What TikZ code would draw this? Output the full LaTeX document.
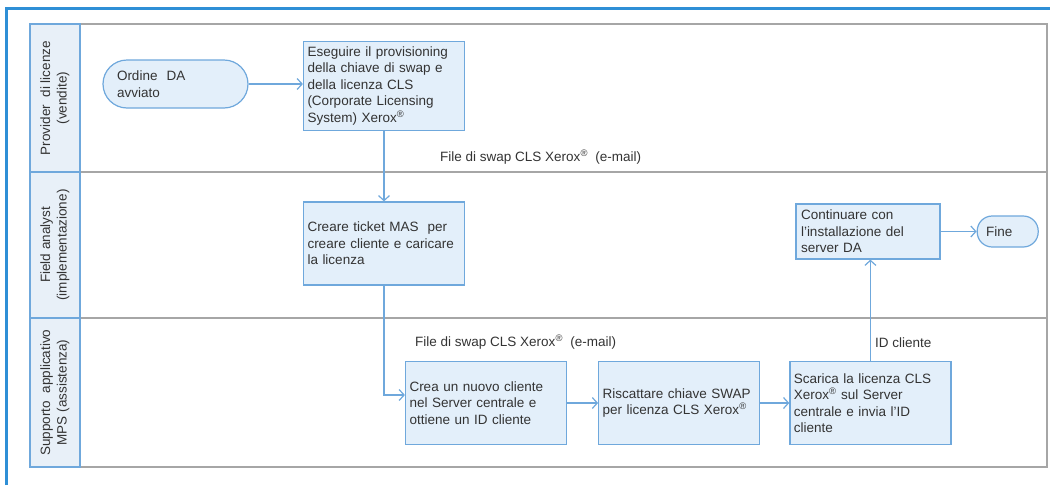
\documentclass[tikz,border=0pt]{standalone}
\usepackage{fontspec}
\setmainfont{Liberation Sans}
\usetikzlibrary{positioning,arrows.meta}
\definecolor{frameblue}{HTML}{2E8FD6}
\definecolor{boxline}{HTML}{6FA8DC}
\definecolor{boxfill}{HTML}{E3EFFA}
\definecolor{lanegray}{HTML}{A6A6A6}
\definecolor{headfill}{HTML}{E8F0F8}
\definecolor{textgray}{HTML}{333333}
\newcommand{\reg}{\textsuperscript{®}}

\begin{document}
\begin{tikzpicture}[x=1pt,y=-1pt,>={Straight Barb[length=5pt,width=11pt]},
  font=\fontsize{13.5}{16.5}\selectfont,text=textgray,
  proc/.style={draw=boxline,fill=boxfill,line width=1.2pt,align=left,inner xsep=4pt,inner ysep=5pt,text width=153pt,minimum height=83pt},
  term/.style={draw=boxline,fill=boxfill,line width=1.2pt,align=left,rounded corners=15pt},
  flow/.style={->,draw=boxline,line width=1.2pt},
  lane/.style={draw=lanegray,line width=1.2pt},
  head/.style={draw=boxline,fill=headfill,line width=1.2pt},
  note/.style={anchor=west,inner sep=0pt}]
  \useasboundingbox (0,0) rectangle (1050,485);
  \draw[frameblue,line width=3pt] (6,485) -- (6,8) -- (1050,8);
  % lanes
  \draw[lane] (30,24) rectangle (1047,467);
  \draw[lane] (80,172) -- (1047,172);
  \draw[lane] (80,318) -- (1047,318);
  \draw[head] (30,24) rectangle (80,172);
  \draw[head] (30,172) rectangle (80,318);
  \draw[head] (30,318) rectangle (80,467);
  \node[rotate=90,align=center] (provider) at (55,98) {Provider\ \ di licenze\\(vendite)};
  \node[rotate=90,align=center] (field) at (55,245) {Field analyst\\(implementazione)};
  \node[rotate=90,align=center] (supporto) at (55,392.5) {Supporto\ \ applicativo\\MPS (assistenza)};
  % steps
  \node[term,inner xsep=14pt,text width=117pt,minimum height=48pt,rounded corners=24pt] (ordine) at (175.5,84) {Ordine\ \ DA\\avviato};
  \node[proc] (esegui) at (384,86) {Eseguire il provisioning\\della chiave di swap e\\della licenza CLS\\(Corporate Licensing\\System) Xerox\reg};
  \node[proc] (creare) at (384,243.5) {Creare ticket MAS\ \ per\\creare cliente e caricare\\la licenza};
  \node[proc] (crea) at (486,403) {Crea un nuovo cliente\\nel Server centrale e\\ottiene un ID cliente};
  \node[proc,right=31pt of crea] (riscatta) {Riscattare chiave SWAP\\per licenza CLS Xerox\reg};
  \node[proc,right=29pt of riscatta] (scarica) {Scarica la licenza CLS\\Xerox\reg{} sul Server\\centrale e invia l'ID\\cliente};
  \node[proc,text width=134pt,inner xsep=5pt,minimum height=55pt] (cont) at (868,231.5) {Continuare con\\l'installazione del\\server DA};
  \node[term,right=36pt of cont,inner xsep=9pt,text width=43pt,minimum height=31pt] (fine) {Fine};
  % texts on the flows
  \node[note] (mail1) at (440,157) {File di swap CLS Xerox\reg\ \ (e-mail)};
  \node[note] (mail2) at (415,342) {File di swap CLS Xerox\reg\ \ (e-mail)};
  \node[note] (idcli) at (875,343) {ID cliente};
  % flows
  \draw[flow] (ordine.east) -- (ordine.east -| esegui.west);
  \draw[flow] (esegui) -- (creare);
  \draw[flow] (creare.south) |- ([yshift=8pt]crea.west);
  \draw[flow] (crea) -- (riscatta);
  \draw[flow] (riscatta) -- (scarica);
  \draw[flow] (scarica.north) -- (scarica.north |- cont.south);
  \draw[flow] (cont) -- (fine);
\end{tikzpicture}
\end{document}
